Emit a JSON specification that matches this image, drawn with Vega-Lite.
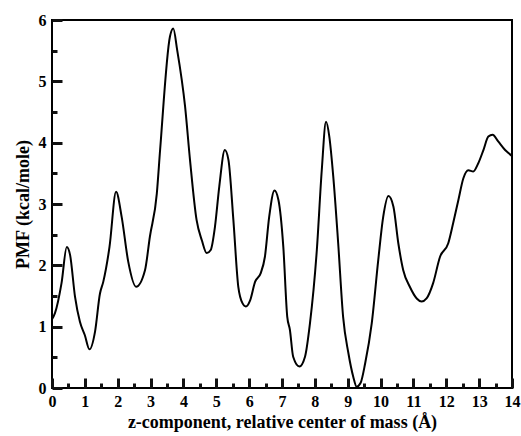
{
  "$schema": "https://vega.github.io/schema/vega-lite/v6.json",
  "width": 460,
  "height": 368,
  "autosize": {"type": "none"},
  "padding": {"left": 52, "top": 20, "right": 9, "bottom": 48},
  "background": "white",
  "config": {
    "view": {"stroke": "black", "strokeWidth": 2},
    "font": "Liberation Serif",
    "axis": {
      "labelFont": "Liberation Serif",
      "labelFontWeight": "bold",
      "labelFontSize": 16,
      "labelColor": "black",
      "titleFont": "Liberation Serif",
      "titleFontWeight": "bold",
      "titleFontSize": 18,
      "titleColor": "black",
      "domain": false,
      "grid": false
    }
  },
  "data": {
    "values": [
      {"z": 0.00, "pmf": 1.12}, {"z": 0.09, "pmf": 1.22}, {"z": 0.29, "pmf": 1.71}, {"z": 0.45, "pmf": 2.30},
      {"z": 0.55, "pmf": 2.17}, {"z": 0.70, "pmf": 1.49}, {"z": 0.85, "pmf": 1.08}, {"z": 1.00, "pmf": 0.86},
      {"z": 1.14, "pmf": 0.63}, {"z": 1.31, "pmf": 0.92}, {"z": 1.46, "pmf": 1.54}, {"z": 1.56, "pmf": 1.73},
      {"z": 1.75, "pmf": 2.30}, {"z": 1.95, "pmf": 3.20}, {"z": 2.12, "pmf": 2.79}, {"z": 2.32, "pmf": 2.06},
      {"z": 2.56, "pmf": 1.65}, {"z": 2.83, "pmf": 1.92}, {"z": 2.98, "pmf": 2.47}, {"z": 3.19, "pmf": 3.17},
      {"z": 3.29, "pmf": 3.88}, {"z": 3.59, "pmf": 5.73}, {"z": 3.69, "pmf": 5.86}, {"z": 3.81, "pmf": 5.51},
      {"z": 4.05, "pmf": 4.59}, {"z": 4.20, "pmf": 3.72}, {"z": 4.40, "pmf": 2.74}, {"z": 4.56, "pmf": 2.41},
      {"z": 4.71, "pmf": 2.20}, {"z": 4.83, "pmf": 2.25}, {"z": 4.96, "pmf": 2.63}, {"z": 5.09, "pmf": 3.28},
      {"z": 5.26, "pmf": 3.88}, {"z": 5.37, "pmf": 3.72}, {"z": 5.52, "pmf": 2.74}, {"z": 5.67, "pmf": 1.65},
      {"z": 5.80, "pmf": 1.38}, {"z": 5.90, "pmf": 1.33}, {"z": 6.03, "pmf": 1.43}, {"z": 6.18, "pmf": 1.73},
      {"z": 6.35, "pmf": 1.87}, {"z": 6.48, "pmf": 2.14}, {"z": 6.61, "pmf": 2.79}, {"z": 6.77, "pmf": 3.22},
      {"z": 6.89, "pmf": 3.07}, {"z": 7.04, "pmf": 2.30}, {"z": 7.16, "pmf": 1.16}, {"z": 7.24, "pmf": 0.95},
      {"z": 7.34, "pmf": 0.51}, {"z": 7.53, "pmf": 0.35}, {"z": 7.70, "pmf": 0.51}, {"z": 7.85, "pmf": 1.05},
      {"z": 8.06, "pmf": 2.25}, {"z": 8.21, "pmf": 3.55}, {"z": 8.34, "pmf": 4.34}, {"z": 8.44, "pmf": 4.10},
      {"z": 8.56, "pmf": 3.45}, {"z": 8.71, "pmf": 2.36}, {"z": 8.86, "pmf": 1.16}, {"z": 9.02, "pmf": 0.57},
      {"z": 9.17, "pmf": 0.18}, {"z": 9.27, "pmf": 0.02}, {"z": 9.39, "pmf": 0.08}, {"z": 9.53, "pmf": 0.40},
      {"z": 9.73, "pmf": 1.05}, {"z": 9.93, "pmf": 2.09}, {"z": 10.08, "pmf": 2.79}, {"z": 10.24, "pmf": 3.13},
      {"z": 10.39, "pmf": 2.96}, {"z": 10.54, "pmf": 2.36}, {"z": 10.69, "pmf": 1.92}, {"z": 10.89, "pmf": 1.65},
      {"z": 11.10, "pmf": 1.46}, {"z": 11.25, "pmf": 1.41}, {"z": 11.40, "pmf": 1.46}, {"z": 11.60, "pmf": 1.71},
      {"z": 11.81, "pmf": 2.14}, {"z": 12.06, "pmf": 2.36}, {"z": 12.21, "pmf": 2.69}, {"z": 12.37, "pmf": 3.07},
      {"z": 12.52, "pmf": 3.42}, {"z": 12.67, "pmf": 3.55}, {"z": 12.82, "pmf": 3.53}, {"z": 12.97, "pmf": 3.66},
      {"z": 13.13, "pmf": 3.88}, {"z": 13.28, "pmf": 4.10}, {"z": 13.41, "pmf": 4.13}, {"z": 13.58, "pmf": 4.02},
      {"z": 13.79, "pmf": 3.88}, {"z": 13.96, "pmf": 3.80}, {"z": 14.00, "pmf": 3.78}
    ]
  },
  "layer": [
    {
      "mark": {"type": "line", "color": "black", "strokeWidth": 2, "clip": true, "interpolate": "monotone"},
      "encoding": {
        "x": {
          "field": "z",
          "type": "quantitative",
          "scale": {"domain": [0, 14], "nice": false, "zero": false},
          "axis": {
            "orient": "bottom",
            "title": "z-component, relative center of mass (Å)",
            "values": [0, 1, 2, 3, 4, 5, 6, 7, 8, 9, 10, 11, 12, 13, 14],
            "format": "d",
            "ticks": true,
            "tickColor": "#111111",
            "tickWidth": 3,
            "offset": -10,
            "tickSize": 10,
            "labelPadding": 5,
            "labelFlush": false,
            "labelOverlap": false,
            "titlePadding": 4
          }
        },
        "y": {
          "field": "pmf",
          "type": "quantitative",
          "scale": {"domain": [0, 6], "nice": false, "zero": false},
          "axis": {
            "orient": "left",
            "title": "PMF (kcal/mole)",
            "values": [0, 1, 2, 3, 4, 5, 6],
            "format": "d",
            "ticks": true,
            "tickColor": "#111111",
            "tickWidth": 3,
            "offset": -10,
            "tickSize": 10,
            "labelPadding": 6,
            "labelFlush": false,
            "labelOverlap": false,
            "titlePadding": 6
          }
        }
      }
    },
    {
      "mark": {"type": "line", "opacity": 0, "clip": true},
      "encoding": {
        "x": {
          "field": "z",
          "type": "quantitative",
          "axis": {
            "orient": "bottom",
            "title": null,
            "values": [0.5, 1.5, 2.5, 3.5, 4.5, 5.5, 6.5, 7.5, 8.5, 9.5, 10.5, 11.5, 12.5, 13.5],
            "labels": false,
            "ticks": true,
            "tickColor": "#111111",
            "tickWidth": 3,
            "tickSize": -5
          }
        },
        "y": {
          "field": "pmf",
          "type": "quantitative",
          "axis": {
            "orient": "left",
            "title": null,
            "values": [0.5, 1.5, 2.5, 3.5, 4.5, 5.5],
            "labels": false,
            "ticks": true,
            "tickColor": "#111111",
            "tickWidth": 3,
            "tickSize": -5
          }
        }
      }
    }
  ],
  "resolve": {"axis": {"x": "independent", "y": "independent"}}
}
